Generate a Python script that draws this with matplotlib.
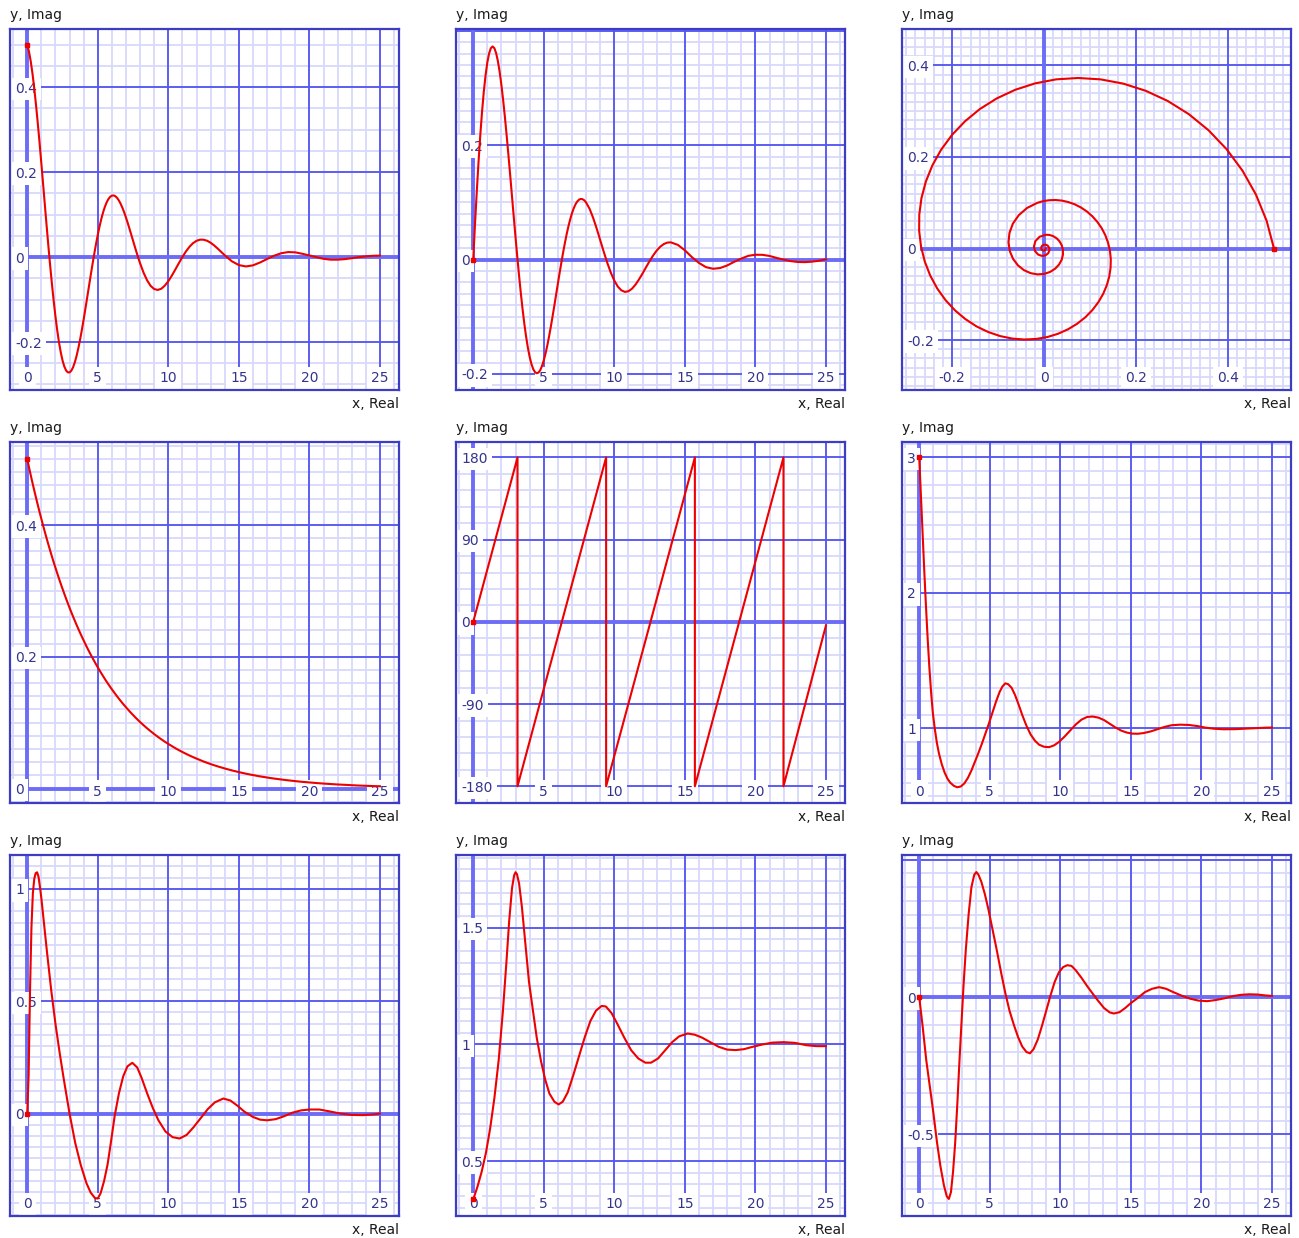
import numpy as np
import matplotlib
matplotlib.use("Agg")
import matplotlib.pyplot as plt

# ---------------- data ----------------
# shared abscissa for panels 1-4 (x, Real)
x_main = [0.0, 0.125, 0.25, 0.375, 0.5, 0.625, 0.75, 0.875, 1.0, 1.125, 1.25,
          1.375, 1.5, 1.625, 1.75, 1.875, 2.0, 2.125, 2.25, 2.375, 2.5, 2.625,
          2.75, 2.875, 3.0, 3.125, 3.25, 3.375, 3.5, 3.625, 3.75, 3.875, 4.0,
          4.125, 4.25, 4.375, 4.5, 4.625, 4.75, 4.875, 5.0, 5.125, 5.25, 5.375,
          5.5, 5.625, 5.75, 5.875, 6.0, 6.125, 6.25, 6.375, 6.5, 6.625, 6.75,
          6.875, 7.0, 7.125, 7.25, 7.375, 7.5, 7.625, 7.75, 7.875, 8.0,
          8.25, 8.5, 8.75, 9.0, 9.25, 9.5, 9.75, 10.0, 10.25, 10.5, 10.75, 11.0,
          11.25, 11.5, 11.75, 12.0, 12.25, 12.5, 12.75, 13.0, 13.25, 13.5, 13.75,
          14.0,
          14.5, 15.0, 15.5, 16.0, 16.5, 17.0, 17.5, 18.0, 18.5, 19.0, 19.5, 20.0,
          20.5, 21.0, 21.5, 22.0, 22.5, 23.0, 23.5, 24.0, 24.5, 25.0]

real_part = [0.5000, 0.4839, 0.4608, 0.4316, 0.3970, 0.3578, 0.3149, 0.2691,
             0.2212, 0.1722, 0.1228, 0.0739, 0.0262, -0.0196, -0.0628, -0.1029,
             -0.1395, -0.1720, -0.2003, -0.2240, -0.2430, -0.2572, -0.2667,
             -0.2714, -0.2717, -0.2676, -0.2595, -0.2477, -0.2325, -0.2144,
             -0.1938, -0.1711, -0.1469, -0.1214, -0.0953, -0.0690, -0.0429,
             -0.0173, 0.0073, 0.0305, 0.0522, 0.0719, 0.0896, 0.1050, 0.1179,
             0.1284, 0.1363, 0.1417, 0.1446, 0.1451, 0.1432, 0.1391, 0.1331,
             0.1252, 0.1157, 0.1049, 0.0930, 0.0801, 0.0666, 0.0527, 0.0387,
             0.0247, 0.0110, -0.0022, -0.0147,
             -0.0370, -0.0550, -0.0679, -0.0753, -0.0774, -0.0746, -0.0674,
             -0.0568, -0.0437, -0.0291, -0.0142, 0.0002, 0.0133, 0.0242, 0.0327,
             0.0383, 0.0410, 0.0409, 0.0384, 0.0337, 0.0274, 0.0200, 0.0121,
             0.0042,
             -0.0098, -0.0189, -0.0221, -0.0195, -0.0128, -0.0046, 0.0032, 0.0090,
             0.0118, 0.0111, 0.0077, 0.0038, -0.0003, -0.0041, -0.0061, -0.0061,
             -0.0049, -0.0027, -0.0003, 0.0017, 0.0030, 0.0034]

imag_part = [0.0, 0.0608, 0.1177, 0.1699, 0.2169, 0.2582, 0.2934, 0.3222, 0.3445,
             0.3602, 0.3695, 0.3725, 0.3695, 0.3607, 0.3467, 0.3279, 0.3048,
             0.2779, 0.2481, 0.2157, 0.1815, 0.1461, 0.1101, 0.0741, 0.0387,
             0.0044, -0.0282, -0.0589, -0.0871, -0.1126, -0.1350, -0.1542,
             -0.1701, -0.1824, -0.1913, -0.1967, -0.1987, -0.1975, -0.1933,
             -0.1861, -0.1763, -0.1643, -0.1503, -0.1345, -0.1174, -0.0993,
             -0.0805, -0.0613, -0.0421, -0.0231, -0.0048, 0.0128, 0.0293, 0.0446,
             0.0583, 0.0705, 0.0810, 0.0897, 0.0966, 0.1015, 0.1047, 0.1060,
             0.1055, 0.1035, 0.0998,
             0.0886, 0.0729, 0.0543, 0.0340, 0.0137, -0.0056, -0.0227, -0.0368,
             -0.0473, -0.0538, -0.0565, -0.0554, -0.0510, -0.0439, -0.0347,
             -0.0244, -0.0134, -0.0027, 0.0071, 0.0156, 0.0223, 0.0270, 0.0296,
             0.0301,
             0.0257, 0.0162, 0.0042, -0.0059, -0.0133, -0.0161, -0.0148, -0.0103,
             -0.0039, 0.0017, 0.0065, 0.0084, 0.0083, 0.0063, 0.0029, -0.0001,
             -0.0027, -0.0042, -0.0045, -0.0037, -0.0021, 0.0004]

magnitude = [0.5000, 0.4877, 0.4756, 0.4639, 0.4524, 0.4413, 0.4304, 0.4197,
             0.4094, 0.3993, 0.3894, 0.3798, 0.3704, 0.3613, 0.3523, 0.3436,
             0.3352, 0.3269, 0.3188, 0.3109, 0.3033, 0.2958, 0.2885, 0.2814,
             0.2744, 0.2676, 0.2610, 0.2546, 0.2483, 0.2422, 0.2362, 0.2304,
             0.2247, 0.2191, 0.2137, 0.2084, 0.2033, 0.1983, 0.1934, 0.1886,
             0.1839, 0.1794, 0.1750, 0.1707, 0.1664, 0.1623, 0.1583, 0.1544,
             0.1506, 0.1469, 0.1433, 0.1397, 0.1363, 0.1329, 0.1296, 0.1264,
             0.1233, 0.1203, 0.1173, 0.1144, 0.1116, 0.1088, 0.1061, 0.1035,
             0.1009,
             0.0960, 0.0913, 0.0869, 0.0826, 0.0786, 0.0748, 0.0711, 0.0677,
             0.0644, 0.0612, 0.0582, 0.0554, 0.0527, 0.0501, 0.0477, 0.0454,
             0.0432, 0.0410, 0.0390, 0.0371, 0.0353, 0.0336, 0.0320, 0.0304,
             0.0275, 0.0249, 0.0225, 0.0204, 0.0184, 0.0167, 0.0151, 0.0137,
             0.0124, 0.0112, 0.0101, 0.0092, 0.0083, 0.0075, 0.0068, 0.0061,
             0.0056, 0.0050, 0.0045, 0.0041, 0.0037, 0.0034]

# panel 5: phase in degrees (wrapped)
phase_x = [0.0, 3.14, 3.14, 9.42, 9.42, 15.71, 15.71, 21.99, 21.99, 25.0]
phase_deg = [0, 180, -180, 180, -180, 180, -180, 180, -180, -4]

# panel 6
p6_x = [0.0, 0.12, 0.24, 0.36, 0.48, 0.6, 0.72, 0.84, 0.96, 1.1, 1.25, 1.4, 1.6,
        1.8, 2.0, 2.2, 2.45, 2.7, 2.95, 3.2, 3.45, 3.7, 3.95, 4.2, 4.45, 4.7,
        4.95, 5.2, 5.45, 5.7, 5.9, 6.1, 6.3, 6.55, 6.8, 7.05, 7.3, 7.6, 7.9,
        8.2, 8.5, 8.85, 9.2, 9.55, 9.9, 10.3, 10.7, 11.1, 11.5, 11.9, 12.3,
        12.7, 13.1, 13.5, 13.9, 14.3, 14.7, 15.1, 15.5, 15.9, 16.4, 16.9, 17.4,
        17.9, 18.5, 19.1, 19.7, 20.3, 20.9, 21.6, 22.4, 23.2, 24.0, 24.6, 25.0]
p6_y = [3.0, 2.72, 2.44, 2.16, 1.90, 1.66, 1.45, 1.27, 1.12, 1.0, 0.895, 0.815,
        0.735, 0.675, 0.63, 0.6, 0.577, 0.566, 0.572, 0.595, 0.635, 0.69, 0.755,
        0.82, 0.89, 0.965, 1.04, 1.12, 1.2, 1.27, 1.31, 1.333, 1.327, 1.30,
        1.245, 1.175, 1.1, 1.02, 0.955, 0.91, 0.88, 0.865, 0.862, 0.875, 0.9,
        0.94, 0.985, 1.03, 1.065, 1.085, 1.088, 1.08, 1.062, 1.035, 1.008, 0.985,
        0.97, 0.962, 0.961, 0.966, 0.978, 0.995, 1.012, 1.024, 1.028, 1.026,
        1.018, 1.006, 0.998, 0.994, 0.995, 0.999, 1.003, 1.006, 1.007]

# panel 7
p7_x = [0.0, 0.1, 0.2, 0.3, 0.4, 0.5, 0.6, 0.7, 0.8, 0.9, 1.0, 1.2, 1.4, 1.7,
        2.0, 2.3, 2.6, 3.0, 3.4, 3.8, 4.2, 4.5, 4.8, 5.0, 5.2, 5.45, 5.7, 5.95,
        6.2, 6.5, 6.8, 7.1, 7.45, 7.8, 8.1, 8.5, 8.9, 9.3, 9.8, 10.3, 10.8, 11.3,
        11.8, 12.3, 12.8, 13.3, 13.9, 14.4, 14.9, 15.4, 16.0, 16.5, 17.0, 17.6,
        18.2, 18.8, 19.4, 20.0, 20.7, 21.4, 22.2, 23.0, 23.8, 24.5, 25.0]
p7_y = [0.0, 0.17, 0.55, 0.83, 0.98, 1.045, 1.07, 1.074, 1.055, 1.01, 0.96,
        0.84, 0.72, 0.55, 0.40, 0.27, 0.15, 0.0, -0.13, -0.23, -0.31, -0.352,
        -0.376, -0.378, -0.355, -0.30, -0.225, -0.12, -0.01, 0.09, 0.165, 0.21,
        0.226, 0.205, 0.16, 0.09, 0.025, -0.03, -0.08, -0.105, -0.111, -0.095,
        -0.06, -0.02, 0.02, 0.05, 0.067, 0.058, 0.035, 0.008, -0.015, -0.027,
        -0.03, -0.025, -0.012, 0.004, 0.014, 0.018, 0.018, 0.01, 0.0, -0.006,
        -0.007, -0.004, 0.0]

# panel 8
p8_x = [0.0, 0.3, 0.6, 0.9, 1.2, 1.5, 1.8, 2.1, 2.35, 2.55, 2.75, 2.9, 3.0, 3.1,
        3.25, 3.45, 3.7, 3.95, 4.2, 4.5, 4.8, 5.1, 5.4, 5.75, 6.05, 6.35, 6.7,
        7.1, 7.5, 7.9, 8.3, 8.7, 9.1, 9.4, 9.8, 10.2, 10.7, 11.2, 11.7, 12.2,
        12.6, 13.1, 13.6, 14.1, 14.6, 15.2, 15.7, 16.2, 16.8, 17.4, 18.0, 18.6,
        19.2, 19.8, 20.5, 21.2, 22.0, 22.8, 23.6, 24.3, 25.0]
p8_y = [0.336, 0.39, 0.455, 0.535, 0.64, 0.77, 0.93, 1.14, 1.35, 1.53, 1.67,
        1.725, 1.738, 1.73, 1.69, 1.59, 1.43, 1.27, 1.16, 1.03, 0.93, 0.85, 0.79,
        0.755, 0.743, 0.755, 0.795, 0.87, 0.95, 1.03, 1.10, 1.145, 1.165, 1.163,
        1.135, 1.09, 1.03, 0.975, 0.94, 0.922, 0.922, 0.94, 0.975, 1.01, 1.035,
        1.047, 1.042, 1.03, 1.01, 0.99, 0.978, 0.976, 0.98, 0.99, 1.0, 1.008,
        1.01, 1.007, 0.997, 0.993, 0.993]

# panel 9
p9_x = [0.0, 0.25, 0.5, 0.75, 1.0, 1.25, 1.5, 1.75, 1.95, 2.1, 2.25, 2.4, 2.55,
        2.7, 2.85, 3.0, 3.15, 3.3, 3.5, 3.7, 3.9, 4.05, 4.2, 4.4, 4.65, 4.9, 5.2,
        5.5, 5.8, 6.1, 6.4, 6.7, 7.0, 7.3, 7.6, 7.85, 8.1, 8.4, 8.7, 9.0, 9.3,
        9.6, 9.9, 10.2, 10.5, 10.8, 11.1, 11.5, 11.9, 12.3, 12.7, 13.1, 13.5,
        13.8, 14.2, 14.6, 15.0, 15.5, 16.0, 16.5, 17.0, 17.5, 18.0, 18.6, 19.2,
        19.8, 20.4, 21.0, 21.6, 22.2, 22.8, 23.4, 24.0, 24.5, 25.0]
p9_y = [0.0, -0.11, -0.23, -0.325, -0.42, -0.525, -0.615, -0.685, -0.725,
        -0.735, -0.71, -0.635, -0.53, -0.39, -0.235, -0.09, 0.05, 0.17, 0.3,
        0.40, 0.445, 0.455, 0.445, 0.42, 0.375, 0.32, 0.245, 0.17, 0.09, 0.015,
        -0.05, -0.10, -0.145, -0.18, -0.2, -0.205, -0.19, -0.155, -0.105, -0.05,
        0.005, 0.055, 0.09, 0.109, 0.116, 0.113, 0.097, 0.07, 0.04, 0.012,
        -0.015, -0.04, -0.056, -0.06, -0.055, -0.04, -0.022, -0.003, 0.018, 0.03,
        0.036, 0.03, 0.018, 0.005, -0.006, -0.013, -0.015, -0.011, -0.005, 0.003,
        0.008, 0.01, 0.009, 0.006, 0.004]

# tick labels per panel
time_ticks_all = ["0", "5", "10", "15", "20", "25"]
time_ticks_no0 = ["5", "10", "15", "20", "25"]
nyq_x_ticks = ["-0.2", "0", "0.2", "0.4"]
y_ticks = {
    1: ["0.4", "0.2", "0", "-0.2"],
    2: ["0.2", "0", "-0.2"],
    3: ["0.4", "0.2", "0", "-0.2"],
    4: ["0.4", "0.2", "0"],
    5: ["180", "90", "0", "-90", "-180"],
    6: ["3", "2", "1"],
    7: ["1", "0.5", "0"],
    8: ["1.5", "1", "0.5"],
    9: ["0", "-0.5"],
}

# ---------------- style ----------------
W, H = 1299, 1238
fig = plt.figure(figsize=(W / 100, H / 100), dpi=100)
fig.patch.set_facecolor("white")
plt.rcParams["font.family"] = ["DejaVu Sans"]

COL_LEFT = [10, 456, 902]
ROW_TOP = [29, 442, 855]
PW, PH = 389, 361

MINOR_C = "#d8d8fc"
MAJOR_C = "#5454f0"
AXIS_C = "#6c6cf6"
BORDER_C = "#3c3cc4"
LABEL_C = "#34348c"
CURVE_C = "#ee0000"
FS = 10

TIME_XLIM = (-1.22, 26.35)


def add_panel(col, row):
    l = COL_LEFT[col] / W
    b = 1 - (ROW_TOP[row] + PH) / H
    return fig.add_axes([l, b, PW / W, PH / H])


def grid_positions(lim, step):
    start = np.ceil(lim[0] / step - 1e-9) * step
    vals = np.arange(start, lim[1] + 1e-12, step)
    return [round(v, 10) for v in vals]


def style_panel(ax, xlim, ylim, xmaj, ymaj, xmin, ymin, xlabels, ylabels):
    ax.set_xlim(xlim)
    ax.set_ylim(ylim)
    ax.set_xticks([])
    ax.set_yticks([])
    ax.set_facecolor("white")
    for s in ax.spines.values():
        s.set_color(BORDER_C)
        s.set_linewidth(1.6)
        s.set_zorder(10)
    for v in grid_positions(xlim, xmin):
        ax.axvline(v, color=MINOR_C, lw=1.3, zorder=1)
    for v in grid_positions(ylim, ymin):
        ax.axhline(v, color=MINOR_C, lw=1.3, zorder=1)
    for v in grid_positions(xlim, xmaj):
        ax.axvline(v, color=MAJOR_C, lw=1.3, zorder=2)
    for v in grid_positions(ylim, ymaj):
        ax.axhline(v, color=MAJOR_C, lw=1.3, zorder=2)
    if xlim[0] < 0 < xlim[1]:
        ax.axvline(0, color=AXIS_C, lw=2.8, zorder=3)
    if ylim[0] < 0 < ylim[1]:
        ax.axhline(0, color=AXIS_C, lw=2.8, zorder=3)
    box = dict(boxstyle="square,pad=0.3", fc="white", ec="none")
    for s in ylabels:
        ax.annotate(s, xy=(0, float(s)), xycoords=ax.get_yaxis_transform(),
                    xytext=(5, 0), textcoords="offset pixels", ha="left",
                    va="center_baseline", fontsize=FS, color=LABEL_C,
                    bbox=box, zorder=4)
    for s in xlabels:
        ax.annotate(s, xy=(float(s), 0), xycoords=ax.get_xaxis_transform(),
                    xytext=(0, 13), textcoords="offset pixels", ha="center",
                    va="center_baseline", fontsize=FS, color=LABEL_C,
                    bbox=box, zorder=4)
    ax.annotate("y, Imag", xy=(0, 1), xycoords="axes fraction", xytext=(0, 10),
                textcoords="offset pixels", ha="left", va="baseline",
                fontsize=FS, color="#1a1a1a")
    ax.annotate("x, Real", xy=(1, 0), xycoords="axes fraction", xytext=(0, -18),
                textcoords="offset pixels", ha="right", va="baseline",
                fontsize=FS, color="#1a1a1a")


def draw_curve(ax, x, y):
    ax.plot(x, y, color=CURVE_C, lw=1.5, zorder=5, solid_joinstyle="round")
    ax.plot([x[0]], [y[0]], marker="s", ms=3.5, color=CURVE_C, zorder=6,
            linestyle="none")


# Panel 1: real part
ax = add_panel(0, 0)
style_panel(ax, TIME_XLIM, (-0.313, 0.537), 5, 0.2, 1, 0.05,
            time_ticks_all, y_ticks[1])
draw_curve(ax, x_main, real_part)

# Panel 2: imaginary part
ax = add_panel(1, 0)
style_panel(ax, TIME_XLIM, (-0.228, 0.403), 5, 0.2, 1, 0.02,
            time_ticks_no0, y_ticks[2])
draw_curve(ax, x_main, imag_part)

# Panel 3: Nyquist
ax = add_panel(2, 0)
style_panel(ax, (-0.309, 0.537), (-0.309, 0.4795), 0.2, 0.2, 0.02, 0.02,
            nyq_x_ticks, y_ticks[3])
draw_curve(ax, real_part, imag_part)

# Panel 4: magnitude
ax = add_panel(0, 1)
style_panel(ax, TIME_XLIM, (-0.022, 0.526), 5, 0.2, 1, 0.02,
            time_ticks_no0, y_ticks[4])
draw_curve(ax, x_main, magnitude)

# Panel 5: phase
ax = add_panel(1, 1)
style_panel(ax, TIME_XLIM, (-198.3, 196.9), 5, 90, 1, 18,
            time_ticks_no0, y_ticks[5])
draw_curve(ax, phase_x, phase_deg)

# Panel 6
ax = add_panel(2, 1)
style_panel(ax, TIME_XLIM, (0.45, 3.114), 5, 1, 1, 0.1,
            time_ticks_all, y_ticks[6])
draw_curve(ax, p6_x, p6_y)

# Panel 7
ax = add_panel(0, 2)
style_panel(ax, TIME_XLIM, (-0.456, 1.151), 5, 0.5, 1, 0.05,
            time_ticks_all, y_ticks[7])
draw_curve(ax, p7_x, p7_y)

# Panel 8
ax = add_panel(1, 2)
style_panel(ax, TIME_XLIM, (0.265, 1.812), 5, 0.5, 1, 0.05,
            time_ticks_all, y_ticks[8])
draw_curve(ax, p8_x, p8_y)

# Panel 9
ax = add_panel(2, 2)
style_panel(ax, TIME_XLIM, (-0.797, 0.517), 5, 0.5, 1, 0.05,
            time_ticks_all, y_ticks[9])
draw_curve(ax, p9_x, p9_y)

fig.savefig("out.png", dpi=100, facecolor="white")
